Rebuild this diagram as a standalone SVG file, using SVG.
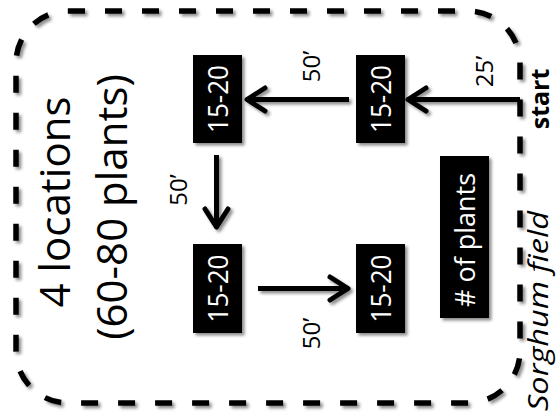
<svg xmlns="http://www.w3.org/2000/svg" width="556" height="417" viewBox="0 0 556 417">
<style>
.box{fill:#000;}
.bt{fill:#fff;font-family:"Open Sans","Liberation Sans",sans-serif;font-size:28px;text-anchor:middle;}
.lbl{fill:#000;font-family:"Open Sans","Liberation Sans",sans-serif;font-size:24px;text-anchor:middle;}
.big{fill:#000;font-family:"Open Sans","Liberation Sans",sans-serif;font-size:42px;text-anchor:middle;}
.conn{stroke:#000;stroke-width:5;fill:none;}
</style>
<defs>
<filter id="sh" x="-20%" y="-20%" width="140%" height="140%">
<feDropShadow dx="2.5" dy="2.5" stdDeviation="1.6" flood-color="#000" flood-opacity="0.45"/>
</filter>
<marker id="ah" markerUnits="userSpaceOnUse" markerWidth="40" markerHeight="40" refX="0" refY="0" orient="auto" overflow="visible">
<path d="M-19,-11.5 L-1,0 L-19,11.5" fill="none" stroke="#000" stroke-width="5" stroke-linecap="round" stroke-linejoin="round"/>
</marker>
</defs>
<rect width="556" height="417" fill="#fff"/>

<g id="field" filter="url(#sh)">
<rect x="16" y="11" width="504" height="392" rx="52" ry="52" fill="none" stroke="#000" stroke-width="5.5" stroke-dasharray="17 20"/>
</g>
<text transform="translate(548,311) rotate(-90)" font-family="'Open Sans','Liberation Sans',sans-serif" font-style="italic" font-size="27" text-anchor="middle" textLength="200" lengthAdjust="spacingAndGlyphs">Sorghum field</text>

<g id="title">
<text class="big" transform="translate(70,202) rotate(-90)">4 locations</text>
<text class="big" transform="translate(127,207) rotate(-90)">(60-80 plants)</text>
</g>

<g id="start">
<text transform="translate(549,99) rotate(-90)" font-family="'Open Sans','Liberation Sans',sans-serif" font-weight="bold" font-size="25" text-anchor="middle">start</text>
</g>

<g id="nodeA">
<rect class="box" x="193" y="55" width="49" height="88" filter="url(#sh)"/>
<text class="bt" transform="translate(228,99) rotate(-90)" textLength="68" lengthAdjust="spacingAndGlyphs">15-20</text>
</g>
<g id="nodeB">
<rect class="box" x="356" y="55" width="49" height="88" filter="url(#sh)"/>
<text class="bt" transform="translate(391,99) rotate(-90)" textLength="68" lengthAdjust="spacingAndGlyphs">15-20</text>
</g>
<g id="nodeC">
<rect class="box" x="193" y="244" width="49" height="89" filter="url(#sh)"/>
<text class="bt" transform="translate(228,288.5) rotate(-90)" textLength="68" lengthAdjust="spacingAndGlyphs">15-20</text>
</g>
<g id="nodeD">
<rect class="box" x="356" y="244" width="49" height="89" filter="url(#sh)"/>
<text class="bt" transform="translate(391,288.5) rotate(-90)" textLength="68" lengthAdjust="spacingAndGlyphs">15-20</text>
</g>
<g id="legend">
<rect class="box" x="440" y="156" width="49" height="162" filter="url(#sh)"/>
<text class="bt" transform="translate(475,240) rotate(-90)" textLength="134" lengthAdjust="spacingAndGlyphs"># of plants</text>
</g>

<g id="connectors">
<g filter="url(#sh)">
<path class="conn" d="M520,99.5 L407,99.5" marker-end="url(#ah)"/>
<path class="conn" d="M349,99.5 L246,99.5" marker-end="url(#ah)"/>
<path class="conn" d="M216.5,155 L216.5,228" marker-end="url(#ah)"/>
<path class="conn" d="M258,288.5 L349,288.5" marker-end="url(#ah)"/>
</g>
<text class="lbl" transform="translate(493,71.5) rotate(-90)">25’</text>
<text class="lbl" transform="translate(320,66.5) rotate(-90)">50’</text>
<text class="lbl" transform="translate(187,190) rotate(-90)">50’</text>
<text class="lbl" transform="translate(320,333.5) rotate(-90)">50’</text>
</g>
</svg>
